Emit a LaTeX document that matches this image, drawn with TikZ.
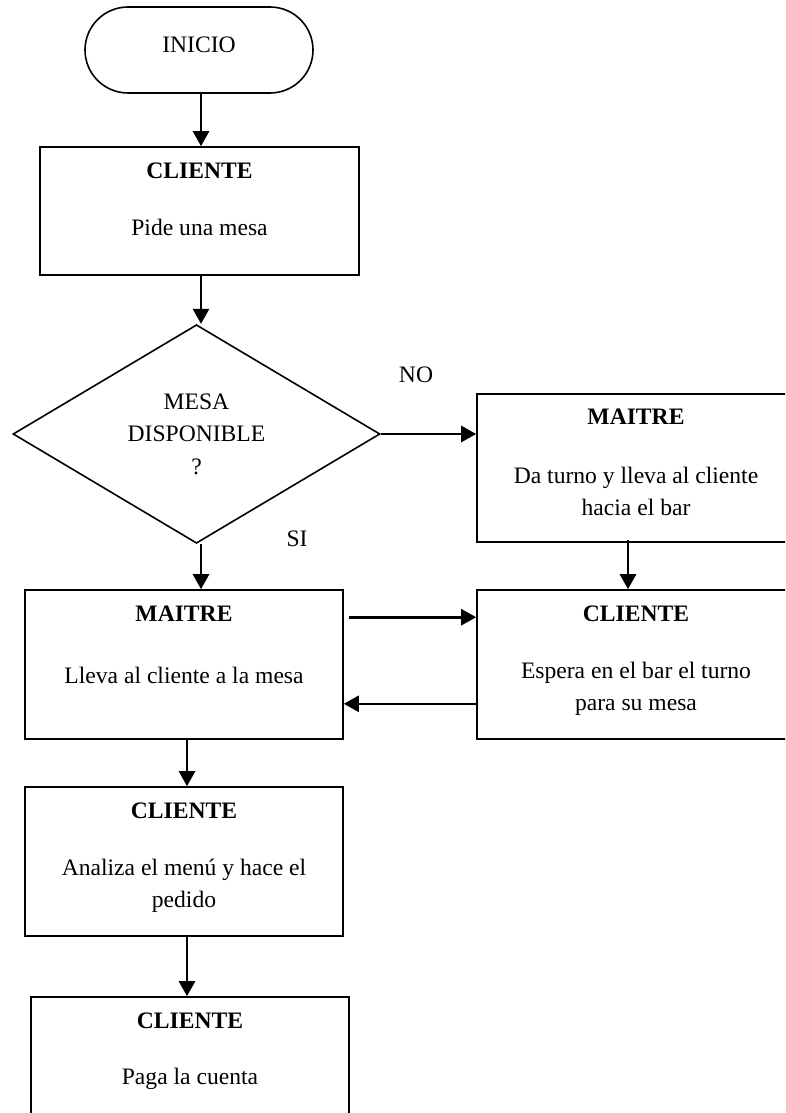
\documentclass[tikz,border=0pt]{standalone}
\usepackage{fontspec}
\setmainfont{Liberation Serif}
\usetikzlibrary{shapes.geometric,arrows.meta}

\tikzset{
  txt/.style={font=\fontsize{23.6}{31.7}\selectfont, inner sep=0pt, align=center},
  ttl/.style={txt, font=\fontsize{23.6}{31.7}\selectfont\bfseries},
  procbox/.style={draw, line width=1.6pt, minimum width=318pt, minimum height=149pt, inner sep=0pt},
  flow/.style={line width=2.6pt, -{Triangle[length=15pt,width=16pt]}}
}

\begin{document}
\begin{tikzpicture}[x=1pt,y=-1pt]
\useasboundingbox (0,0) rectangle (785,1113);
\clip (0,0) rectangle (785,1113);
\fill[white] (0,0) rectangle (785,1113);

% start terminal
\node[draw, line width=1.6pt, rounded corners=43pt, minimum width=228pt, minimum height=86pt,
      txt, text depth=10pt] (inicio) at (199,50) {INICIO};

% first request
\node[procbox, minimum width=319pt, minimum height=128pt] (pide) at (199.5,211) {};
\node[ttl] (pideT) at ([yshift=-25pt]pide.north) {CLIENTE};
\node[txt] (pideB) at ([yshift=-81pt]pide.north) {Pide una mesa};

% decision
\node[draw, line width=1.6pt, diamond, minimum width=367pt, minimum height=216pt,
      txt, font=\fontsize{23.6}{32.5}\selectfont] (mesa) at (196.5,434)
      {MESA\\DISPONIBLE\\?};

% waiting branch
\node[procbox, minimum height=148pt] (turno) at (636,468) {};
\node[ttl] (turnoT) at ([yshift=-24pt]turno.north) {MAITRE};
\node[txt] (turnoB) at ([yshift=-98.5pt]turno.north) {Da turno y lleva al cliente\\hacia el bar};

\node[procbox] (espera) at (636,664.5) {};
\node[ttl] (esperaT) at ([yshift=-25pt]espera.north) {CLIENTE};
\node[txt] (esperaB) at ([yshift=-99.5pt]espera.north) {Espera en el bar el turno\\para su mesa};

% main branch
\node[procbox] (lleva) at (184,664.5) {};
\node[ttl] (llevaT) at ([yshift=-25pt]lleva.north) {MAITRE};
\node[txt] (llevaB) at ([yshift=-86pt]lleva.north) {Lleva al cliente a la mesa};

\node[procbox] (menu) at (184,861.5) {};
\node[ttl] (menuT) at ([yshift=-25pt]menu.north) {CLIENTE};
\node[txt] (menuB) at ([yshift=-99.5pt]menu.north) {Analiza el men\'u y hace el\\pedido};

\node[procbox] (paga) at (190,1071.5) {};
\node[ttl] (pagaT) at ([yshift=-25pt]paga.north) {CLIENTE};
\node[txt] (pagaB) at ([yshift=-83pt]paga.north) {Paga la cuenta};

% branch labels
\node[txt] (no) at (416,375) {NO};
\node[txt] (si) at (297,539) {SI};

% connectors
\draw[flow] ([xshift=2pt]inicio.south) -- ([xshift=1.5pt]pide.north);
\draw[flow] ([xshift=1.5pt]pide.south) -- ([xshift=4.5pt]mesa.north);
\draw[flow] (mesa.east) -- (mesa.east -| turno.west);
\draw[flow] ([xshift=4.5pt]mesa.south) -- ([xshift=17pt]lleva.north);
\draw[flow] ([xshift=-8pt,yshift=3pt]turno.south) -- ([xshift=-8pt]espera.north);
\draw[flow] ([shift={(5pt,-28pt)}]lleva.north east) -- ([yshift=-28pt]espera.north west);
\draw[flow] ([yshift=36pt]espera.south west) -- ([yshift=36pt]lleva.south east);
\draw[flow] ([xshift=3pt]lleva.south) -- ([xshift=3pt]menu.north);
\draw[flow] ([xshift=3pt]menu.south) -- ([xshift=-3pt]paga.north);
\end{tikzpicture}
\end{document}
